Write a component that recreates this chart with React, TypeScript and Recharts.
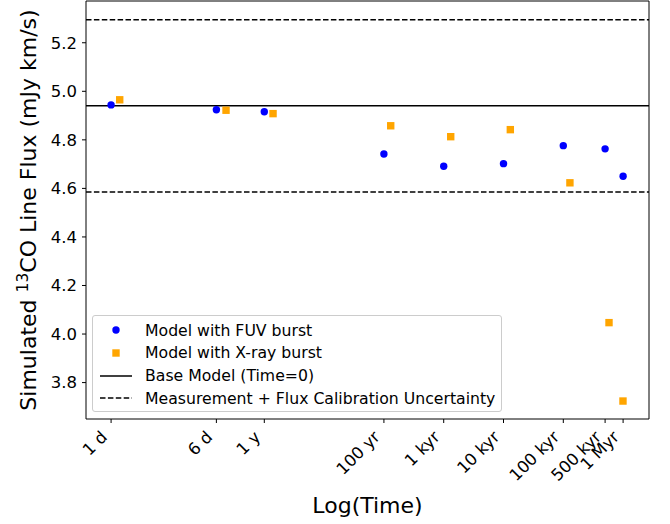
import React from "react";
import {
  ScatterChart,
  Scatter,
  XAxis,
  YAxis,
  ReferenceLine,
} from "recharts";

// tick positions (years) and their labels
const tickTimes = [0.00274, 0.158, 1, 100, 1e3, 1e4, 1e5, 5e5, 1e6];
const tickLabels = ["1 d", "6 d", "1 y", "100 yr", "1 kyr", "10 kyr", "100 kyr", "500 kyr", "1 Myr"];

// FUV burst models
const fuvTime = [0.00274, 0.158, 1, 100, 1e3, 1e4, 1e5, 5e5, 1e6];
const fuvFlux = [4.944, 4.924, 4.916, 4.742, 4.691, 4.702, 4.776, 4.763, 4.65];

// X-ray burst models
const xrayTime = [0.00382, 0.229, 1.4, 130, 1310, 13000, 129000, 581000, 995000];
const xrayFlux = [4.965, 4.922, 4.908, 4.858, 4.813, 4.842, 4.623, 4.047, 3.724];

const baseFlux = 4.94;
const measHigh = 5.295;
const measLow = 4.585;

const yTicks = [3.8, 4.0, 4.2, 4.4, 4.6, 4.8, 5.0, 5.2];
const xDomain = [1.043e-3, 2.71e6];
const yDomain = [3.65, 5.372];

const FONT = "DejaVu Sans";

const fuvData = fuvTime.map((t, i) => ({ t, flux: fuvFlux[i] }));
const xrayData = xrayTime.map((t, i) => ({ t, flux: xrayFlux[i] }));

const Dot = (props: any) => <circle cx={props.cx} cy={props.cy} r={3.7} fill="#0000ff" />;
const Square = (props: any) => (
  <rect x={props.cx - 3.7} y={props.cy - 3.7} width={7.4} height={7.4} fill="#ffa500" />
);

const XTick = (props: any) => {
  const { x, y, payload } = props;
  const label = tickLabels[tickTimes.indexOf(payload.value)];
  const ax = x - 3;
  const ay = y + 13;
  return (
    <text
      x={ax}
      y={ay}
      transform={`rotate(-45 ${ax} ${ay})`}
      textAnchor="end"
      fontSize={16.5}
      fontFamily={FONT}
      fill="#000"
    >
      {label}
    </text>
  );
};

const YLabel = (props: any) => {
  const vb = props.viewBox || { y: 1, height: 418 };
  const cy = vb.y + vb.height / 2;
  return (
    <text
      x={36}
      y={cy}
      transform={`rotate(-90 36 ${cy})`}
      textAnchor="middle"
      fontSize={22}
      fontFamily={FONT}
      fill="#000"
    >
      Simulated{" "}
      <tspan fontSize={15.5} dy={-8}>13</tspan>
      <tspan dy={8}>CO Line Flux (mJy km/s)</tspan>
    </text>
  );
};

function Legend() {
  const rows = [
    { kind: "dot", text: "Model with FUV burst" },
    { kind: "square", text: "Model with X-ray burst" },
    { kind: "solid", text: "Base Model (Time=0)" },
    { kind: "dash", text: "Measurement + Flux Calibration Uncertainty" },
  ];
  return (
    <div
      style={{
        position: "absolute",
        left: 92,
        top: 315,
        width: 410,
        height: 97,
        boxSizing: "border-box",
        border: "1px solid #cccccc",
        borderRadius: 3,
        background: "rgba(255,255,255,0.8)",
        fontFamily: FONT,
        fontSize: 15.7,
        color: "#000",
      }}
    >
      {rows.map((r, i) => (
        <div
          key={r.text}
          style={{ position: "absolute", left: 0, top: 3 + i * 22.8, height: 22, display: "flex", alignItems: "center" }}
        >
          <svg width={50} height={22} style={{ marginLeft: 6 }}>
            {r.kind === "dot" && <circle cx={17} cy={11} r={3.7} fill="#0000ff" />}
            {r.kind === "square" && <rect x={13.3} y={7.3} width={7.4} height={7.4} fill="#ffa500" />}
            {r.kind === "solid" && <line x1={1} x2={33} y1={11} y2={11} stroke="#000" strokeWidth={1.5} />}
            {r.kind === "dash" && (
              <line x1={1} x2={33} y1={11} y2={11} stroke="#000" strokeWidth={1.5} strokeDasharray="5.5 2.4" />
            )}
          </svg>
          <span style={{ marginLeft: -4, whiteSpace: "nowrap" }}>{r.text}</span>
        </div>
      ))}
    </div>
  );
}

export default function App() {
  return (
    <div style={{ position: "absolute", left: 0, top: 0, width: 670, height: 524, background: "#fff" }}>
      <ScatterChart width={670} height={524} margin={{ top: 1, right: 21, bottom: 0, left: 0 }}>
        <XAxis
          dataKey="t"
          type="number"
          scale="log"
          domain={xDomain}
          allowDataOverflow
          ticks={tickTimes}
          interval={0}
          height={105}
          tick={<XTick />}
          tickSize={4}
          tickLine={{ stroke: "#000" }}
          axisLine={{ stroke: "#000" }}
          label={{
            value: "Log(Time)",
            position: "insideBottom",
            offset: 11,
            fontSize: 22,
            fontFamily: FONT,
            fill: "#000",
          }}
        />
        <YAxis
          dataKey="flux"
          type="number"
          domain={yDomain}
          allowDataOverflow
          ticks={yTicks}
          interval={0}
          width={86}
          tickSize={4}
          tickMargin={5}
          tickFormatter={(v: number) => v.toFixed(1)}
          tick={{ fontSize: 16.5, fontFamily: FONT, fill: "#000" }}
          tickLine={{ stroke: "#000" }}
          axisLine={{ stroke: "#000" }}
          label={{ content: <YLabel /> }}
        />
        <ReferenceLine y={measHigh} stroke="#000" strokeWidth={1.5} strokeDasharray="5.5 2.4" />
        <ReferenceLine y={measLow} stroke="#000" strokeWidth={1.5} strokeDasharray="5.5 2.4" />
        <ReferenceLine y={baseFlux} stroke="#000" strokeWidth={1.5} />
        <ReferenceLine y={yDomain[1]} stroke="#000" strokeWidth={1} />
        <ReferenceLine x={xDomain[1]} stroke="#000" strokeWidth={1} />
        <Scatter data={fuvData} shape={<Dot />} isAnimationActive={false} />
        <Scatter data={xrayData} shape={<Square />} isAnimationActive={false} />
      </ScatterChart>
      <Legend />
    </div>
  );
}
